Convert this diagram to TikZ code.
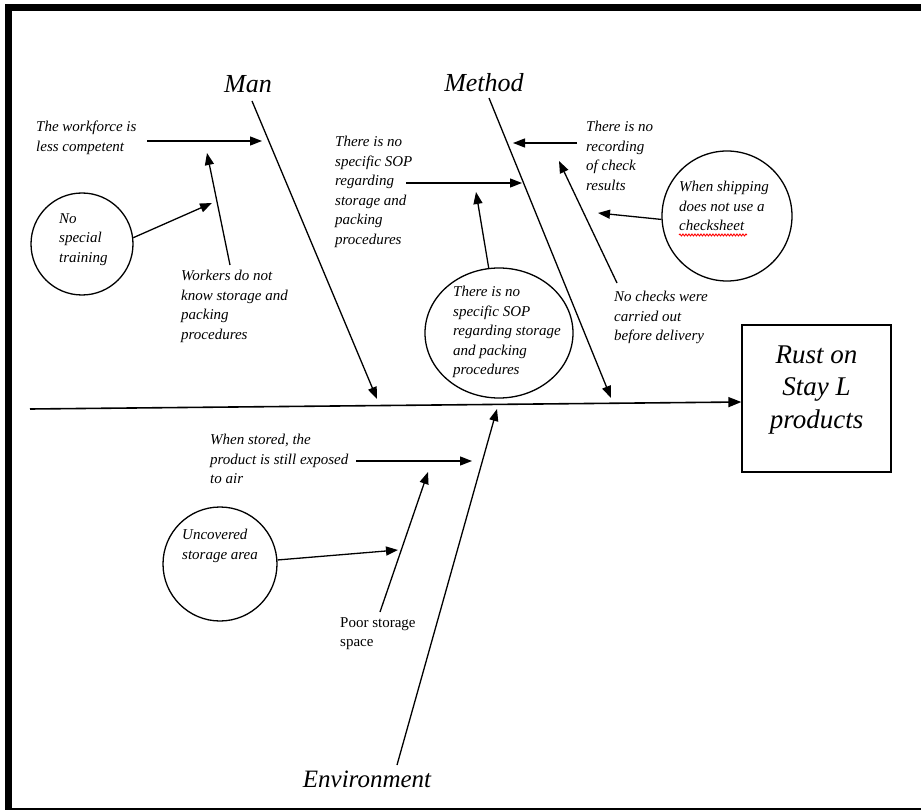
\documentclass[tikz,border=0pt]{standalone}
\usepackage{fontspec}
\setmainfont{Liberation Serif}
\usetikzlibrary{arrows.meta,shapes.geometric,decorations.pathmorphing}
\begin{document}
\begin{tikzpicture}[x=1pt,y=-1pt,
  sm/.style={font=\fontsize{15}{19.5}\selectfont\itshape, align=left, inner sep=0pt, anchor=north west},
  smup/.style={font=\fontsize{15}{19.5}\selectfont, align=left, inner sep=0pt, anchor=north west},
  cat/.style={font=\fontsize{26}{30}\selectfont\itshape, inner sep=0pt, anchor=base},
  arr/.style={line width=1.3pt, -{Triangle[length=12pt,width=9pt]}},
  spine/.style={line width=1.6pt, -{Triangle[length=13pt,width=10pt]}},
  cause/.style={draw, line width=1.3pt, circle, inner sep=0pt}]
\useasboundingbox (0,0) rectangle (921,810);
\clip (0,0) rectangle (921,810);
% frame
\draw[line width=7pt] (8.5,7.5) rectangle (935,811.5);

% effect
\node[draw, line width=1.3pt, minimum width=149pt, minimum height=147pt, inner sep=0pt] (eff) at (816.5,398.5) {};
\node[align=center, font=\fontsize{27}{32.5}\selectfont\itshape, inner sep=0pt, anchor=base] (efft) at (816.5,428) {Rust on\\Stay L\\products};

% spine
\coordinate (sp0) at (30,409);
\draw[spine] (sp0) -- ([yshift=-3.5pt]eff.west);

% categories
\node[cat] (man) at (248,93) {Man};
\node[cat] (method) at (484,92) {Method};
\node[cat, font=\fontsize{25}{30}\selectfont\itshape] (env) at (367,787) {Environment};

\coordinate (manS) at (252,101);  \coordinate (manE) at (377,399);
\coordinate (metS) at (489,98);   \coordinate (metE) at (611,398);
\coordinate (envS) at (397,765);  \coordinate (envE) at (497,409);
\draw[arr] (manS) -- (manE);
\draw[arr] (metS) -- (metE);
\draw[arr] (envS) -- (envE);

% ---- Man causes
\node[sm] (t1) at (36,121) {The workforce is\\less competent};
\coordinate (a1s) at (147,141); \coordinate (a1e) at (262,141);
\draw[arr] (a1s) -- (a1e);

\node[sm] (t2) at (181,270) {Workers do not\\know storage and\\packing\\procedures};
\coordinate (a2s) at (230,265); \coordinate (a2e) at (207,153);
\draw[arr] (a2s) -- (a2e);

\node[cause, minimum size=102pt] (c1) at (82,244) {};
\node[sm] (t3) at (59,213) {No\\special\\training};
\coordinate (a3e) at (212,203);
\draw[arr] (c1.7) -- (a3e);

% ---- Method causes
\node[sm] (t4) at (335,136) {There is no\\specific SOP\\regarding\\storage and\\packing\\procedures};
\coordinate (a4s) at (406,183); \coordinate (a4e) at (522,183);
\draw[arr] (a4s) -- (a4e);

\node[draw, line width=1.3pt, ellipse, minimum width=148pt, minimum height=130pt, inner sep=0pt] (c2) at (499,333) {};
\node[sm] (t5) at (453,286) {There is no\\specific SOP\\regarding storage\\and packing\\procedures};
\coordinate (a5e) at (476,192);
\draw[arr] (c2.99) -- (a5e);

\node[sm] (t6) at (586,121) {There is no\\recording\\of check\\results};
\coordinate (a6s) at (577,143); \coordinate (a6e) at (513,143);
\draw[arr] (a6s) -- (a6e);

\node[sm] (t7) at (614,291) {No checks were\\carried out\\before delivery};
\coordinate (a7s) at (617,283); \coordinate (a7e) at (559,161);
\draw[arr] (a7s) -- (a7e);

\node[cause, minimum size=130pt] (c3) at (727,216) {};
\node[sm] (t8) at (679,181) {When shipping\\does not use a\\checksheet};
\coordinate (w1) at (679,235); \coordinate (w2) at (747,235);
\draw[red, line width=0.9pt, decorate, decoration={snake, segment length=3pt, amplitude=1pt}] (w1) -- (w2);
\coordinate (a8e) at (598,213);
\draw[arr] (c3.183) -- (a8e);

% ---- Environment causes
\node[sm] (t9) at (210,434) {When stored, the\\product is still exposed\\to air};
\coordinate (a9s) at (356,461); \coordinate (a9e) at (472,461);
\draw[arr] (a9s) -- (a9e);

\node[smup] (t10) at (340,617) {Poor storage\\space};
\coordinate (a10s) at (380,612); \coordinate (a10e) at (428,472);
\draw[arr] (a10s) -- (a10e);

\node[cause, minimum size=114pt] (c4) at (220,564) {};
\node[sm] (t11) at (182,529) {Uncovered\\storage area};
\coordinate (a11e) at (398,550);
\draw[arr] (c4.4) -- (a11e);
\end{tikzpicture}
\end{document}
